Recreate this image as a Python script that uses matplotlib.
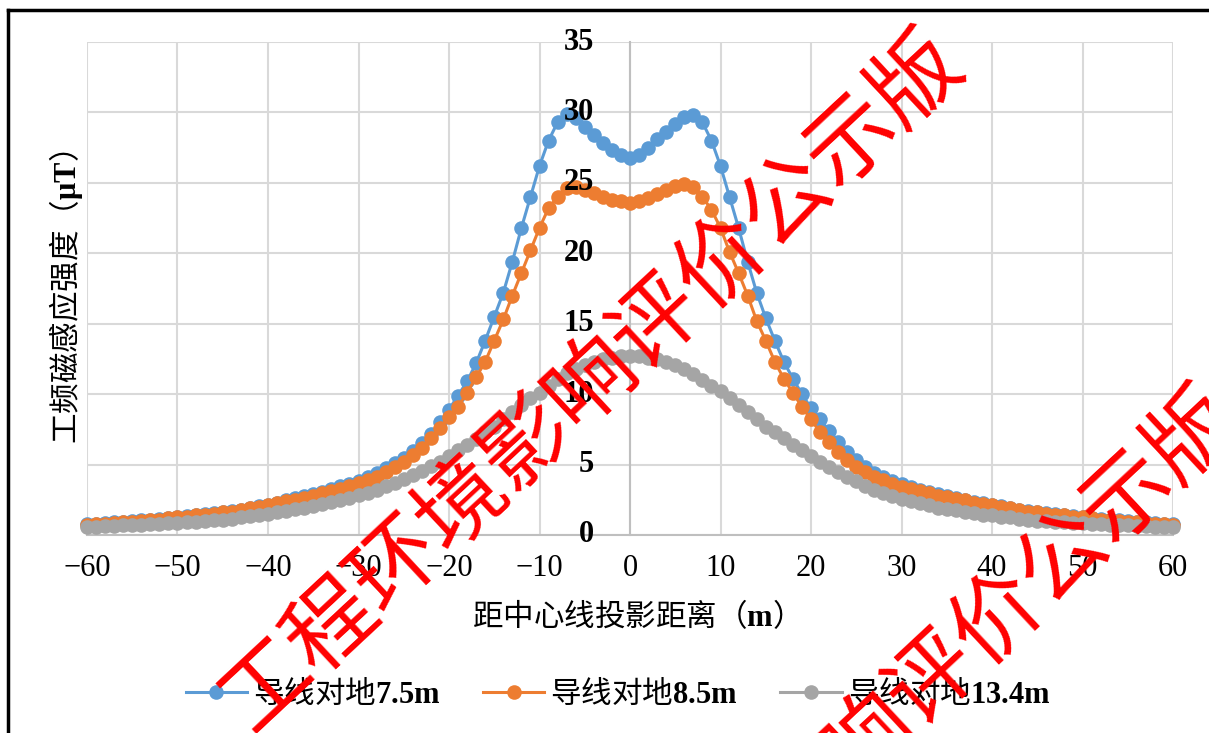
import matplotlib
matplotlib.use("Agg")
import matplotlib.pyplot as plt
from matplotlib.lines import Line2D

W, H = 1209, 733

# distance from line centre (m), 1 m step
dist = list(range(-60, 61))

# conductor 7.5 m above ground
b_75 = [0.77, 0.8, 0.85, 0.9, 0.95, 1.0, 1.05, 1.1, 1.15, 1.2, 1.3,
        1.35, 1.4, 1.5, 1.55, 1.65, 1.7, 1.8, 1.95, 2.05, 2.15,
        2.3, 2.45, 2.6, 2.75, 2.9, 3.05, 3.25, 3.45, 3.65, 3.85,
        4.1, 4.4, 4.75, 5.1, 5.5, 5.95, 6.5, 7.2, 8.0, 8.9,
        9.9, 10.9, 12.2, 13.8, 15.5, 17.2, 19.4, 21.8, 24.0, 26.2,
        28.0, 29.3, 29.9, 29.6, 29.0, 28.4, 27.8, 27.3, 27.0,
        26.8,
        27.0, 27.5, 28.1, 28.6, 29.2, 29.7, 29.8, 29.3, 28.0, 26.2,
        24.0, 21.8, 19.4, 17.2, 15.4, 13.8, 12.3, 11.1, 10.0, 9.0,
        8.2, 7.4, 6.6, 5.9, 5.3, 4.8, 4.4, 4.1, 3.85, 3.6,
        3.4, 3.2, 3.05, 2.9, 2.75, 2.6, 2.5, 2.35, 2.25, 2.15,
        2.05, 1.95, 1.8, 1.7, 1.65, 1.55, 1.5, 1.4, 1.35, 1.3,
        1.2, 1.15, 1.1, 1.05, 1.0, 0.95, 0.9, 0.85, 0.8, 0.77]

# conductor 8.5 m above ground
b_85 = [0.74, 0.77, 0.8, 0.85, 0.9, 0.95, 1.0, 1.05, 1.1, 1.2, 1.25,
        1.3, 1.4, 1.45, 1.5, 1.6, 1.65, 1.75, 1.9, 2.0, 2.1,
        2.25, 2.4, 2.5, 2.65, 2.8, 2.95, 3.1, 3.3, 3.5, 3.7,
        3.9, 4.15, 4.45, 4.8, 5.2, 5.7, 6.2, 6.9, 7.6, 8.4,
        9.1, 10.1, 11.2, 12.3, 13.8, 15.3, 17.0, 18.6, 20.2, 21.8,
        23.2, 24.0, 24.6, 24.7, 24.5, 24.3, 24.0, 23.8, 23.7,
        23.6,
        23.7, 23.9, 24.2, 24.5, 24.8, 24.9, 24.7, 24.0, 23.1, 21.8,
        20.1, 18.6, 17.0, 15.2, 13.8, 12.3, 11.1, 10.1, 9.1, 8.2,
        7.3, 6.6, 5.9, 5.3, 4.8, 4.45, 4.15, 3.9, 3.65, 3.4,
        3.25, 3.1, 2.95, 2.8, 2.7, 2.55, 2.45, 2.3, 2.2, 2.1,
        2.0, 1.9, 1.75, 1.65, 1.6, 1.5, 1.45, 1.4, 1.3, 1.25,
        1.2, 1.1, 1.05, 1.0, 0.95, 0.9, 0.85, 0.8, 0.77, 0.74]

# conductor 13.4 m above ground
b_134 = [0.57, 0.6, 0.62, 0.65, 0.68, 0.71, 0.74, 0.77, 0.8, 0.83,
         0.87, 0.9, 0.95, 1.0, 1.05, 1.1, 1.15, 1.25, 1.35, 1.42,
         1.5, 1.6, 1.7, 1.85, 1.95, 2.05, 2.2, 2.35, 2.5, 2.65,
         2.85, 3.0, 3.2, 3.45, 3.7, 4.0, 4.25, 4.55, 4.9, 5.2,
         5.6, 6.0, 6.4, 6.8, 7.3, 7.7, 8.2, 8.7, 9.2, 9.7,
         10.1, 10.6, 11.1, 11.5, 11.8, 12.1, 12.3, 12.5, 12.6, 12.7,
         12.7, 12.7, 12.6, 12.5, 12.3, 12.1, 11.8, 11.4, 11.0, 10.6,
         10.2, 9.7, 9.2, 8.7, 8.2, 7.7, 7.3, 6.9, 6.4, 6.0,
         5.6, 5.2, 4.8, 4.45, 4.1, 3.8, 3.5, 3.2, 2.95, 2.75,
         2.55, 2.4, 2.25, 2.1, 1.95, 1.85, 1.75, 1.65, 1.55, 1.45,
         1.4, 1.3, 1.25, 1.15, 1.05, 1.0, 0.97, 0.93, 0.9, 0.87,
         0.83, 0.8, 0.77, 0.74, 0.71, 0.68, 0.65, 0.62, 0.6, 0.58, 0.55]

series_names = [r"导线对地$\mathbf{7.5m}$", r"导线对地$\mathbf{8.5m}$",
                r"导线对地$\mathbf{13.4m}$"]
series_colors = ["#5B9BD5", "#ED7D31", "#A5A5A5"]
x_ticks = list(range(-60, 61, 10))
y_ticks = list(range(0, 36, 5))

plt.rcParams["font.family"] = ["Noto Sans CJK SC", "Liberation Serif"]
plt.rcParams["mathtext.fontset"] = "custom"
plt.rcParams["mathtext.rm"] = "Liberation Serif"
plt.rcParams["mathtext.bf"] = "Liberation Serif:bold"
plt.rcParams["axes.unicode_minus"] = True

fig = plt.figure(figsize=(W / 100, H / 100), dpi=100)
ax = fig.add_axes([87 / W, 1 - 535 / H, (1173 - 87) / W, (535 - 42) / H])

for vals, name, col in zip([b_75, b_85, b_134], series_names, series_colors):
    ax.plot(dist, vals, color=col, lw=2.2, marker="o", markersize=10.5,
            markeredgewidth=0, label=name, clip_on=False, zorder=3)

ax.set_xlim(-60, 60)
ax.set_ylim(0, 35)
ax.set_xticks(x_ticks)
ax.set_yticks(y_ticks)
ax.set_axisbelow(True)
ax.grid(True, color="#d9d9d9", lw=1.5)
ax.tick_params(length=0)
ax.tick_params(axis="x", labelsize=22, pad=14)
ax.set_yticklabels([])
for lab in ax.get_xticklabels():
    lab.set_family("Liberation Serif")

for s in ["top", "right"]:
    ax.spines[s].set_visible(False)
ax.spines["left"].set_position(("data", 0))
ax.spines["left"].set_color("#bfbfbf")
ax.spines["left"].set_linewidth(1.5)
ax.spines["bottom"].set_color("#bfbfbf")
ax.spines["bottom"].set_linewidth(1.5)

# y labels sit on the x=0 axis, drawn over the curves
for v in y_ticks:
    ax.annotate(str(v), xy=(0, v), xytext=(-36, 0), textcoords="offset pixels",
                ha="right", va="center", fontsize=22, family="Liberation Serif",
                fontweight="bold", zorder=6)

fig.text(66 / W, 1 - 297 / H, r"工频磁感应强度（$\mathbf{μT}$）", rotation=90,
         ha="center", va="center", fontsize=22)
fig.text(628 / W, 1 - 616 / H, r"距中心线投影距离（$\mathbf{m}$）",
         ha="center", va="center", fontsize=22)

ax.legend(loc="center", bbox_to_anchor=(618 / W, 1 - 694 / H),
          bbox_transform=fig.transFigure, ncol=3, frameon=False,
          prop={"family": "Noto Sans CJK SC", "size": 22}, handlelength=2.0,
          handletextpad=0.2, columnspacing=1.4)

# frame of the original picture
fig.add_artist(Line2D([8 / W, 8 / W], [0, 1 - 10 / H], transform=fig.transFigure,
                      color="black", lw=2.5))
fig.add_artist(Line2D([8 / W, 1], [1 - 10 / H, 1 - 10 / H], transform=fig.transFigure,
                      color="black", lw=2.5))

# red watermark
wm = "工程环境影响评价公示版"
for cx, cy in [(592, 382), (868, 738)]:
    fig.text(cx / W, 1 - cy / H, wm, rotation=43, rotation_mode="anchor",
             ha="center", va="center", fontsize=64, color="red",
             family="Noto Sans CJK SC", zorder=10)

fig.savefig("out.png", dpi=100)
